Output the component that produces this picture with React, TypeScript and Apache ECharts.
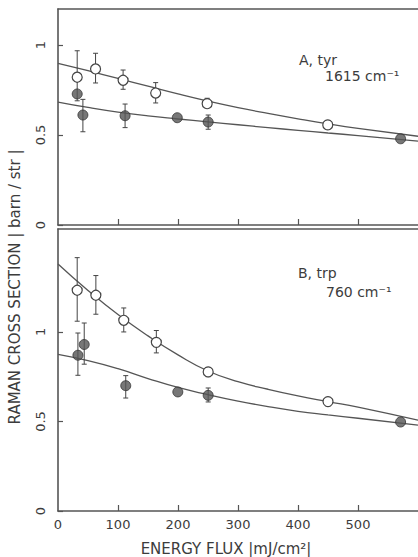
import React, { useEffect, useRef } from "react";
import * as echarts from "echarts";

// ---- Data ----
const curveFlux = [0, 50, 100, 150, 200, 250, 300, 350, 400, 450, 500, 600];

// Panel A: tyr 1615 cm-1
const tyrOpenFlux = [32, 62.6, 108.5, 162.8, 248.6, 449.6];
const tyrOpenVal = [0.821, 0.867, 0.804, 0.733, 0.674, 0.556];
const tyrOpenErrLow = [0.69, 0.789, 0.754, 0.678, 0.655, null];
const tyrOpenErrHigh = [0.968, 0.954, 0.861, 0.791, 0.704, null];
const tyrFilledFlux = [32, 41.5, 111.8, 198.8, 250.3, 571];
const tyrFilledVal = [0.728, 0.611, 0.607, 0.596, 0.572, 0.479];
const tyrFilledErrLow = [null, 0.518, 0.541, null, 0.532, null];
const tyrFilledErrHigh = [null, 0.698, 0.672, null, 0.611, null];
const tyrOpenCurve = [0.898, 0.857, 0.814, 0.771, 0.728, 0.688, 0.652, 0.62, 0.59, 0.562, 0.537, 0.493];
const tyrFilledCurve = [0.683, 0.653, 0.627, 0.606, 0.589, 0.573, 0.557, 0.541, 0.526, 0.511, 0.497, 0.466];

// Panel B: trp 760 cm-1
const trpOpenFlux = [32, 63.1, 109.6, 163.9, 250.3, 450];
const trpOpenVal = [1.233, 1.205, 1.065, 0.942, 0.777, 0.611];
const trpOpenErrLow = [1.06, 1.099, 1.0, 0.883, 0.75, null];
const trpOpenErrHigh = [1.415, 1.315, 1.134, 1.008, 0.8, null];
const trpFilledFlux = [33.2, 43.7, 112.9, 199.7, 250.3, 571];
const trpFilledVal = [0.87, 0.93, 0.7, 0.665, 0.646, 0.497];
const trpFilledErrLow = [0.758, 0.82, 0.631, null, 0.609, null];
const trpFilledErrHigh = [0.994, 1.05, 0.756, null, 0.687, null];
const trpOpenCurve = [1.38, 1.232, 1.097, 0.978, 0.872, 0.782, 0.722, 0.68, 0.643, 0.611, 0.58, 0.507];
const trpFilledCurve = [0.875, 0.84, 0.795, 0.74, 0.69, 0.65, 0.614, 0.583, 0.557, 0.537, 0.518, 0.48];

const xTicks = [0, 100, 200, 300, 400, 500];
const yTicks = [0, 0.5, 1];

const FONT = "DejaVu Sans";
const INK = "#3c3c3c";
const LINE = "#555555";

const pairs = (xs: number[], ys: (number | null)[]) => xs.map((x, i) => [x, ys[i]]);
const errs = (xs: number[], lo: (number | null)[], hi: (number | null)[]) =>
  xs
    .map((x, i) => (lo[i] == null || hi[i] == null ? null : [x, lo[i], hi[i]]))
    .filter((d) => d !== null);

const errRender = (params: any, api: any) => {
  const x = api.value(0);
  const p1 = api.coord([x, api.value(1)]);
  const p2 = api.coord([x, api.value(2)]);
  const w = 2.5;
  const style = { stroke: "#444", lineWidth: 1 };
  return {
    type: "group",
    children: [
      { type: "line", shape: { x1: p1[0], y1: p1[1], x2: p2[0], y2: p2[1] }, style },
      { type: "line", shape: { x1: p1[0] - w, y1: p1[1], x2: p1[0] + w, y2: p1[1] }, style },
      { type: "line", shape: { x1: p2[0] - w, y1: p2[1], x2: p2[0] + w, y2: p2[1] }, style },
    ],
  };
};

export default function App() {
  const ref = useRef<HTMLDivElement>(null);

  useEffect(() => {
    if (!ref.current) return;
    const chart = echarts.init(ref.current, null, { renderer: "svg" });

    const axisLine = { show: true, lineStyle: { color: LINE, width: 1.6 } };
    const labelStyle = { color: INK, fontFamily: FONT, fontSize: 13 };

    const xBase = (gridIndex: number, withLabels: boolean) => ({
      type: "value",
      gridIndex,
      min: 0,
      max: 600,
      interval: 100,
      axisLine,
      splitLine: { show: false },
      axisTick: {
        show: true,
        inside: true,
        length: 6,
        lineStyle: { color: LINE, width: 1.2 },
        customValues: [100, 200, 300, 400, 500],
      },
      axisLabel: withLabels
        ? { show: true, margin: 7, ...labelStyle, customValues: xTicks }
        : { show: false },
    });
    const xTop = (gridIndex: number) => ({
      type: "value",
      gridIndex,
      position: "top",
      min: 0,
      max: 600,
      axisLine,
      axisTick: { show: false },
      axisLabel: { show: false },
      splitLine: { show: false },
    });
    const yBase = (gridIndex: number, max: number) => ({
      type: "value",
      gridIndex,
      min: 0,
      max,
      interval: 0.5,
      axisLine,
      splitLine: { show: false },
      axisTick: {
        show: true,
        inside: true,
        length: 5,
        lineStyle: { color: LINE, width: 1.2 },
        customValues: yTicks,
      },
      axisLabel: {
        show: true,
        rotate: 90,
        margin: 11,
        ...labelStyle,
        customValues: yTicks,
      },
    });

    const lineSeries = (xi: number, yi: number, ys: number[]) => ({
      type: "line",
      xAxisIndex: xi,
      yAxisIndex: yi,
      data: pairs(curveFlux, ys),
      smooth: 0.5,
      showSymbol: false,
      symbol: "none",
      lineStyle: { color: LINE, width: 1.3 },
      z: 2,
    });
    const errSeries = (xi: number, yi: number, data: any[]) => ({
      type: "custom",
      xAxisIndex: xi,
      yAxisIndex: yi,
      data,
      encode: { x: 0, y: [1, 2] },
      renderItem: errRender,
      z: 3,
    });
    const dotSeries = (xi: number, yi: number, data: any[], filled: boolean) => ({
      type: "scatter",
      xAxisIndex: xi,
      yAxisIndex: yi,
      data,
      symbol: "circle",
      symbolSize: 10,
      itemStyle: filled
        ? { color: "#555555", borderColor: "#333333", borderWidth: 1 }
        : { color: "#ffffff", borderColor: "#444444", borderWidth: 1.2, opacity: 1 },
      z: 4,
    });

    const text = (x: number, y: number, t: string, extra: any = {}) => ({
      type: "text",
      x,
      y,
      style: {
        text: t,
        fill: INK,
        font: `13px ${FONT}`,
        textAlign: "left",
        textVerticalAlign: "middle",
        ...extra,
      },
    });

    chart.setOption({
      animation: false,
      backgroundColor: "#ffffff",
      grid: [
        { left: 58, top: 9, width: 361, height: 216 },
        { left: 58, top: 229, width: 361, height: 282 },
      ],
      xAxis: [xBase(0, false), xTop(0), xBase(1, true), xTop(1)],
      yAxis: [yBase(0, 1.2), yBase(1, 1.575)],
      series: [
        lineSeries(0, 0, tyrOpenCurve),
        lineSeries(0, 0, tyrFilledCurve),
        errSeries(0, 0, errs(tyrOpenFlux, tyrOpenErrLow, tyrOpenErrHigh)),
        errSeries(0, 0, errs(tyrFilledFlux, tyrFilledErrLow, tyrFilledErrHigh)),
        dotSeries(0, 0, pairs(tyrOpenFlux, tyrOpenVal), false),
        dotSeries(0, 0, pairs(tyrFilledFlux, tyrFilledVal), true),
        lineSeries(2, 1, trpOpenCurve),
        lineSeries(2, 1, trpFilledCurve),
        errSeries(2, 1, errs(trpOpenFlux, trpOpenErrLow, trpOpenErrHigh)),
        errSeries(2, 1, errs(trpFilledFlux, trpFilledErrLow, trpFilledErrHigh)),
        dotSeries(2, 1, pairs(trpOpenFlux, trpOpenVal), false),
        dotSeries(2, 1, pairs(trpFilledFlux, trpFilledVal), true),
      ],
      graphic: [
        text(299, 60, "A, tyr", { font: `14px ${FONT}` }),
        text(325, 76, "1615 cm⁻¹", { font: `14px ${FONT}` }),
        text(298, 273, "B, trp", { font: `14px ${FONT}` }),
        text(326, 292, "760 cm⁻¹", { font: `14px ${FONT}` }),
        text(226, 549, "ENERGY FLUX |mJ/cm²|", {
          font: `15px ${FONT}`,
          textAlign: "center",
        }),
        {
          type: "text",
          x: 15,
          y: 287,
          rotation: Math.PI / 2,
          style: {
            text: "RAMAN CROSS SECTION | barn / str |",
            fill: INK,
            font: `15px ${FONT}`,
            textAlign: "center",
            textVerticalAlign: "middle",
          },
        },
      ],
    });

    return () => chart.dispose();
  }, []);

  return (
    <div
      ref={ref}
      style={{ position: "absolute", left: 0, top: 0, width: 418, height: 557 }}
    />
  );
}
